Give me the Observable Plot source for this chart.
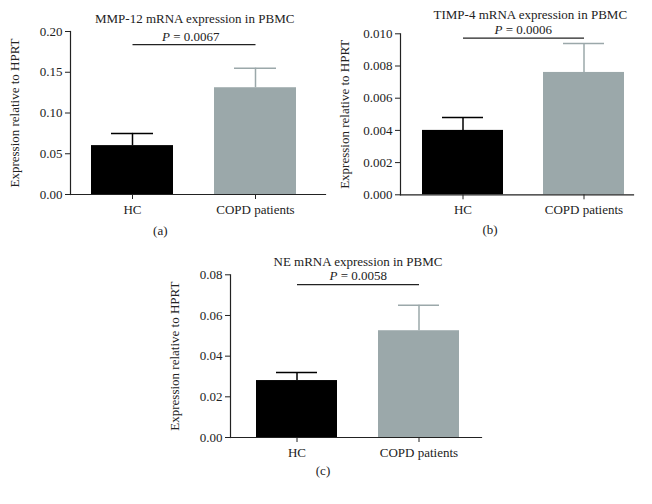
<!DOCTYPE html>
<html>
<head>
<meta charset="utf-8">
<script src="https://cdn.jsdelivr.net/npm/d3@7"></script>
<script src="https://cdn.jsdelivr.net/npm/@observablehq/plot@0.6"></script>
<style>
  html, body { margin: 0; padding: 0; background: #fff; }
  #root { position: relative; width: 652px; height: 504px; overflow: hidden; font-family: "Liberation Serif", "DejaVu Serif", serif; color: #222; }
  .panel { position: absolute; }
  .lbl { position: absolute; transform: translate(-50%, -50%); white-space: nowrap; font-size: 13px; z-index: 2; line-height: 1; }
  .panel svg { background: transparent !important; }
  .panel svg text, .panel svg g { font-family: "Liberation Serif", "DejaVu Serif", serif !important; font-size: 13px !important; }
</style>
</head>
<body>
<div id="root"></div>
<script>
// ---- data ----
const groups = ["HC", "COPD patients"];
const titles = ["MMP-12 mRNA expression in PBMC", "TIMP-4 mRNA expression in PBMC", "NE mRNA expression in PBMC"];
const captions = ["(a)", "(b)", "(c)"];
const pValues = ["0.0067", "0.0006", "0.0058"];
const meansA = [0.060, 0.131];
const upperA = [0.075, 0.155];
const meansB = [0.0040, 0.0076];
const upperB = [0.0048, 0.0094];
const meansC = [0.028, 0.0525];
const upperC = [0.032, 0.065];
const pLineY = [0.184, 0.00973, 0.0752];
const yTicksA = [0, 0.05, 0.10, 0.15, 0.20];
const yTicksB = [0, 0.002, 0.004, 0.006, 0.008, 0.010];
const yTicksC = [0, 0.02, 0.04, 0.06, 0.08];
const yLabel = "Expression relative to HPRT";
const barColors = ["#000000", "#9ba8aa"];

const root = document.getElementById("root");

function panel(cfg) {
  const data = groups.map((g, i) => ({group: g, mean: cfg.means[i], upper: cfg.upper[i], color: barColors[i]}));
  const plot = Plot.plot({
    width: cfg.width,
    height: cfg.height,
    marginLeft: cfg.ml, marginRight: cfg.mr, marginTop: cfg.mt, marginBottom: cfg.mb,
    style: {fontFamily: '"Liberation Serif", "DejaVu Serif", serif', fontSize: "13px", color: "#222", background: "transparent"},
    x: {type: "band", domain: groups, paddingInner: cfg.pi, paddingOuter: cfg.po, align: cfg.align},
    y: {domain: cfg.domain},
    marks: [
      Plot.barY(data, {x: "group", y: "mean", fill: "color"}),
      Plot.ruleX(data, {x: "group", y1: "mean", y2: "upper", stroke: "color", strokeWidth: 1.5}),
      Plot.tickY(data, {x: "group", y: "upper", stroke: "color", strokeWidth: 1.5, inset: 20}),
      Plot.link([cfg.pLine], {x1: () => groups[0], x2: () => groups[1], y1: d => d, y2: d => d, stroke: "#222", strokeWidth: 1.2}),
      Plot.frame({anchor: "left", stroke: "#222", strokeWidth: 1.2}),
      Plot.frame({anchor: "bottom", stroke: "#222", strokeWidth: 1.2}),
      Plot.axisY({ticks: cfg.ticks, tickFormat: cfg.fmt, tickSize: 5, tickPadding: 3, label: yLabel, labelAnchor: "center", labelArrow: "none", labelOffset: 61, fontSize: 13, stroke: "#222"}),
      Plot.axisX({tickSize: 5, tickPadding: 5, label: null, fontSize: 13, stroke: "#222"})
    ]
  });
  const wrap = document.createElement("div");
  wrap.className = "panel";
  wrap.style.left = cfg.left + "px";
  wrap.style.top = cfg.top + "px";
  wrap.appendChild(plot);
  root.appendChild(wrap);

  const add = (html, x, y) => {
    const d = document.createElement("div");
    d.className = "lbl";
    d.innerHTML = html;
    d.style.left = x + "px";
    d.style.top = y + "px";
    root.appendChild(d);
  };
  add(cfg.title, cfg.titleXY[0], cfg.titleXY[1]);
  add("<i>P</i> = " + cfg.p, cfg.pXY[0], cfg.pXY[1]);
  add(cfg.caption, cfg.capXY[0], cfg.capXY[1]);
}

panel({
  left: 0, top: 0, width: 330, height: 225, ml: 70, mr: 5, mt: 31, mb: 31,
  pi: 0.337, po: 0.203, align: 0.42,
  domain: [0, 0.20], ticks: yTicksA, fmt: d3.format(".2f"),
  means: meansA, upper: upperA, pLine: pLineY[0],
  title: titles[0], titleXY: [194.7, 17.5], p: pValues[0], pXY: [190.8, 35.5],
  caption: captions[0], capXY: [160.3, 230]
});
panel({
  left: 330, top: 0, width: 322, height: 225, ml: 70, mr: 19, mt: 33.3, mb: 30.7,
  pi: 0.33, po: 0.12, align: 0.7,
  domain: [0, 0.010], ticks: yTicksB, fmt: d3.format(".3f"),
  means: meansB, upper: upperB, pLine: pLineY[1],
  title: titles[1], titleXY: [530.3, 13.5], p: pValues[1], pXY: [523.3, 29],
  caption: captions[1], capXY: [490, 228.5]
});
panel({
  left: 160, top: 250, width: 330, height: 220, ml: 70, mr: 9, mt: 24.3, mb: 33,
  pi: 0.333, po: 0.19, align: 0.55,
  domain: [0, 0.08], ticks: yTicksC, fmt: d3.format(".2f"),
  means: meansC, upper: upperC, pLine: pLineY[2],
  title: titles[2], titleXY: [358, 260.7], p: pValues[2], pXY: [358.3, 275],
  caption: captions[2], capXY: [323, 470]
});
</script>
</body>
</html>
